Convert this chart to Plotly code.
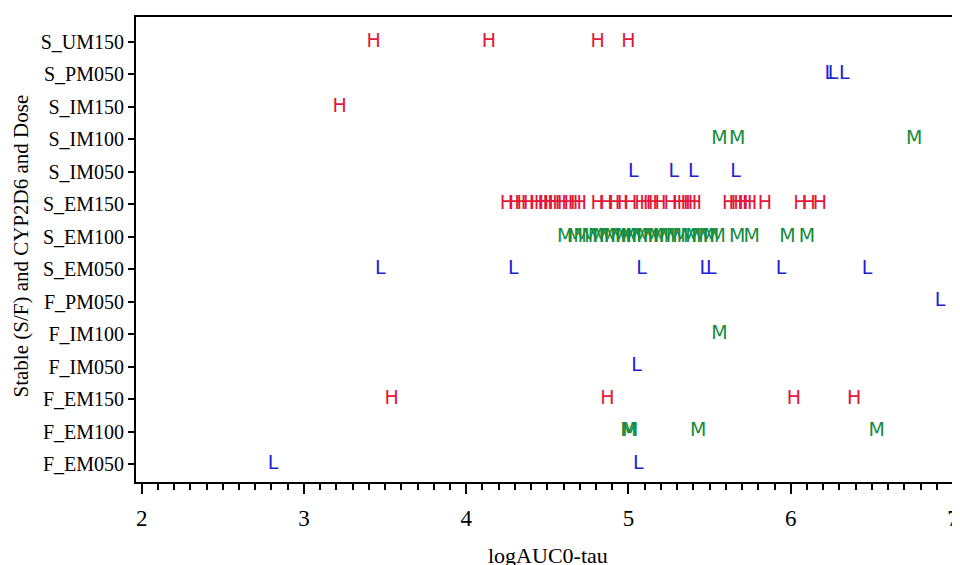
import plotly.graph_objects as go

categories = ["F_EM050", "F_EM100", "F_EM150", "F_IM050", "F_IM100", "F_PM050",
              "S_EM050", "S_EM100", "S_EM150", "S_IM050", "S_IM100", "S_IM150",
              "S_PM050", "S_UM150"]

# High dose (H, red)
h_F_EM150 = [3.54, 4.87, 6.02, 6.39]
h_S_EM150 = [4.25, 4.30, 4.34, 4.38, 4.43, 4.46, 4.49, 4.52, 4.55, 4.59, 4.63, 4.67, 4.70,
             4.81, 4.86, 4.92, 4.96, 5.01, 5.08, 5.11, 5.15,
             5.19, 5.26, 5.31, 5.34, 5.38, 5.41,
             5.62, 5.66, 5.69, 5.72, 5.75, 5.84,
             6.06, 6.11, 6.18]
h_S_IM150 = [3.22]
h_S_UM150 = [3.43, 4.14, 4.81, 5.00]

# Medium dose (M, green)
m_F_EM100 = [5.00, 5.01, 5.43, 6.53]
m_F_IM100 = [5.56]
m_S_EM100 = [4.61, 4.67, 4.71, 4.76, 4.80, 4.83, 4.87, 4.90, 4.94, 4.97, 5.00, 5.03,
             5.07, 5.10, 5.14, 5.17, 5.20, 5.24, 5.28, 5.32, 5.37, 5.40, 5.44, 5.48,
             5.51, 5.55, 5.67, 5.76, 5.98, 6.10]
m_S_IM100 = [5.56, 5.67, 6.76]

# Low dose (L, blue)
l_F_EM050 = [2.81, 5.06]
l_F_IM050 = [5.05]
l_F_PM050 = [6.92]
l_S_EM050 = [3.47, 4.29, 5.08, 5.47, 5.51, 5.94, 6.47]
l_S_IM050 = [5.03, 5.28, 5.40, 5.66]
l_S_PM050 = [6.24, 6.26, 6.33]

x_ticks = [2, 3, 4, 5, 6, 7]
x_title = "logAUC0-tau"
y_title = "Stable (S/F) and CYP2D6 and Dose"

RED = "rgb(228,22,58)"
GREEN = "rgb(22,140,62)"
BLUE = "rgb(32,32,212)"

groups = [
    ("H", RED, [("F_EM150", h_F_EM150), ("S_EM150", h_S_EM150),
                ("S_IM150", h_S_IM150), ("S_UM150", h_S_UM150)]),
    ("M", GREEN, [("F_EM100", m_F_EM100), ("F_IM100", m_F_IM100),
                  ("S_EM100", m_S_EM100), ("S_IM100", m_S_IM100)]),
    ("L", BLUE, [("F_EM050", l_F_EM050), ("F_IM050", l_F_IM050),
                 ("F_PM050", l_F_PM050), ("S_EM050", l_S_EM050),
                 ("S_IM050", l_S_IM050), ("S_PM050", l_S_PM050)]),
]

fig = go.Figure()
for letter, color, rows in groups:
    xs, ys = [], []
    for cat, vals in rows:
        idx = categories.index(cat)
        xs += vals
        ys += [idx] * len(vals)
    fig.add_trace(go.Scatter(
        x=xs, y=ys, mode="text", text=[letter] * len(xs),
        textposition="middle center",
        textfont=dict(family="DejaVu Sans", size=19, color=color),
        showlegend=False, hoverinfo="x+y",
    ))

serif = "Liberation Serif"
fig.update_layout(
    width=960, height=565,
    margin=dict(l=128, r=8, t=9, b=91),
    paper_bgcolor="white", plot_bgcolor="white",
    font=dict(family=serif, color="black"),
    xaxis=dict(
        automargin=False,
        range=[1.965, 7.043], tickvals=x_ticks, ticktext=[str(t) for t in x_ticks],
        showgrid=False, zeroline=False,
        showline=True, linecolor="black", linewidth=2, mirror=True,
        ticks="outside", ticklen=10, tickwidth=2, tickcolor="black",
        ticklabelstandoff=4,
        tickfont=dict(family=serif, size=23, color="black"),
        minor=dict(dtick=0.1, ticks="outside", ticklen=6, tickwidth=1.5, tickcolor="black"),
    ),
    yaxis=dict(
        automargin=False,
        range=[-0.555, 13.77], tickvals=list(range(len(categories))), ticktext=categories,
        showgrid=False, zeroline=False,
        showline=True, linecolor="black", linewidth=2,
        ticks="outside", ticklen=6, tickwidth=2, tickcolor="black",
        tickfont=dict(family=serif, size=20, color="black"),
    ),
    annotations=[
        dict(text=x_title, xref="paper", yref="paper", x=0.5, y=0,
             xanchor="center", yanchor="middle", yshift=-73, showarrow=False,
             font=dict(family=serif, size=22, color="black")),
        dict(text=y_title, xref="paper", yref="paper", x=0, y=0.5,
             xanchor="center", yanchor="middle", xshift=-116, yshift=3,
             textangle=-90, showarrow=False,
             font=dict(family=serif, size=21, color="black")),
    ],
)

fig.write_html("out.html")
